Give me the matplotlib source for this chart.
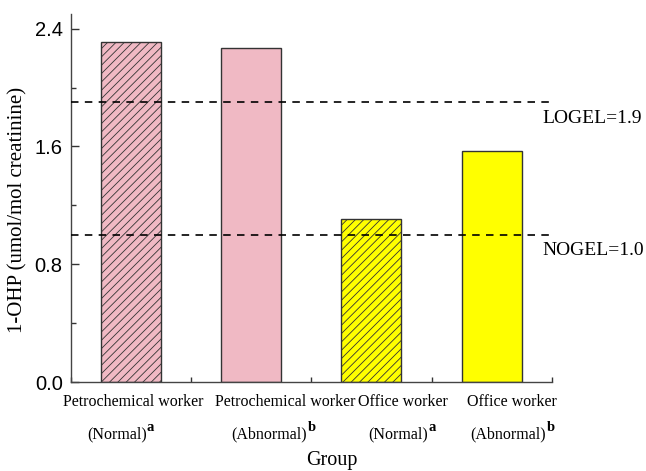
import matplotlib
matplotlib.use("Agg")
import matplotlib.pyplot as plt
from matplotlib.ticker import MultipleLocator, FixedLocator
from matplotlib.transforms import blended_transform_factory

# Group data
groups = ["Petrochemical worker", "Petrochemical worker", "Office worker", "Office worker"]
subgroups = ["(Normal)", "(Abnormal)", "(Normal)", "(Abnormal)"]
sig_marks = ["a", "b", "a", "b"]
values = [2.31, 2.27, 1.11, 1.57]
bar_colors = ["#F0B9C4", "#F0B9C4", "#FFFF00", "#FFFF00"]
bar_hatches = ["////", None, "////", None]

# Reference levels
ref_names = ["LOGEL", "NOGEL"]
ref_values = [1.9, 1.0]

plt.rcParams["hatch.linewidth"] = 0.6

fig = plt.figure(figsize=(6.46, 4.71), dpi=100)
ax = fig.add_axes([71 / 646, 1 - 382 / 471, (551.7 - 71) / 646, (382 - 14) / 471])

x = [1, 2, 3, 4]
for xi, v, c, h in zip(x, values, bar_colors, bar_hatches):
    ax.bar(xi, v, width=0.5, color=c, edgecolor="#333333", linewidth=1.0,
           hatch=h, zorder=2)

for name, val in zip(ref_names, ref_values):
    ax.plot([0.5, 4.5], [val, val], color="black", linewidth=1.2,
            dashes=(4.5, 3.8), zorder=3, clip_on=False)
    ax.text(4.42, val - 0.05, f"{name}={val:.1f}", ha="left", va="top",
            fontsize=14, family="Liberation Serif", clip_on=False)

ax.set_xlim(0.5, 4.5)
ax.set_ylim(0, 2.5)

for side in ("top", "right"):
    ax.spines[side].set_visible(False)
for side in ("left", "bottom"):
    ax.spines[side].set_color("#444444")
    ax.spines[side].set_linewidth(1.0)

ax.yaxis.set_minor_locator(MultipleLocator(0.4))
ax.xaxis.set_major_locator(FixedLocator(x))
ax.xaxis.set_minor_locator(FixedLocator([0.5, 1.5, 2.5, 3.5, 4.5]))
ax.set_yticks([0.0, 0.8, 1.6, 2.4])
ax.set_yticklabels(["0.0", "0.8", "1.6", "2.4"], family="Liberation Sans", fontsize=14.5)
ax.set_xticklabels([])
ax.tick_params(axis="both", which="major", direction="in", length=6, width=1.0,
               color="#333333")
ax.tick_params(axis="both", which="minor", direction="in", length=3.5, width=1.0,
               color="#333333")
ax.tick_params(axis="y", which="major", pad=6)

# Two-line group labels with bold significance superscripts
trans = blended_transform_factory(ax.transData, fig.transFigure)
line1_x = [1.02, 2.28, 3.26, 4.17]
line2_x = [0.88, 2.15, 3.22, 4.14]
for g, s, m, x1, x2 in zip(groups, subgroups, sig_marks, line1_x, line2_x):
    ax.text(x1, 1 - 402 / 471, g, transform=trans, ha="center", va="center",
            fontsize=11.5, family="Liberation Serif", clip_on=False)
    t = ax.text(x2, 1 - 434 / 471, s, transform=trans, ha="center", va="center",
                fontsize=11.5, family="Liberation Serif", clip_on=False)
    ax.annotate(m, xy=(1.0, 0.5), xycoords=t, xytext=(0.3, 0),
                textcoords="offset points", ha="left", va="bottom",
                fontsize=10.5, fontweight="bold", family="Liberation Serif",
                annotation_clip=False)

fig.text(332 / 646, 1 - 461 / 471, "Group", ha="center", va="center",
         fontsize=14.5, family="Liberation Serif")
fig.text(18 / 646, 1 - 210 / 471, "1-OHP (umol/mol creatinine)", rotation=90,
         ha="center", va="center", fontsize=15, family="Liberation Serif")

fig.savefig("out.png", dpi=100)
